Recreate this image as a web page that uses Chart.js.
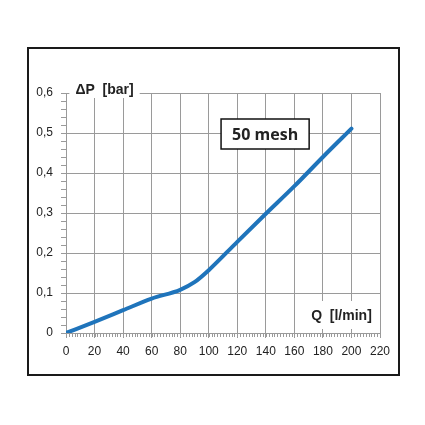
<!DOCTYPE html>
<html>
<head>
<meta charset="utf-8">
<script src="https://cdn.jsdelivr.net/npm/chart.js@4/dist/chart.umd.min.js"></script>
<style>
  body { margin: 0; background: #fff; }
  #wrap { position: relative; width: 425px; height: 425px; }
  #frame {
    position: absolute; left: 27px; top: 47px; width: 373px; height: 329px;
    box-sizing: border-box; border: 2.5px solid #1a1a1a;
  }
  canvas { position: absolute; left: 0; top: 0; }
</style>
</head>
<body>
<div id="wrap">
  <div id="frame"></div>
  <canvas id="chart" width="425" height="425"></canvas>
</div>
<script>
// flow Q [l/min] vs pressure drop ΔP [bar]
const flow = [0, 20, 40, 60, 80, 90, 100, 120, 140, 160, 180, 200];
const pressureDrop = [0, 0.028, 0.057, 0.086, 0.108, 0.127, 0.157, 0.228, 0.298, 0.367, 0.44, 0.511];

const seriesLabel = '50 mesh';
const xTitle = 'Q  [l/min]';
const yTitle = 'ΔP  [bar]';

const gridColor = '#9a9a9a';
const tickFont = {family: 'Liberation Sans', size: 12};

const fmtBar = (v) => (Math.abs(v) < 1e-9 ? '0' : v.toFixed(1).replace('.', ','));

// labels sitting on a white patch, placed in data coordinates
function drawLabel(ctx, chart, text, x, y, opts) {
  const {scales} = chart;
  const cx = scales.x.getPixelForValue(x);
  const cy = scales.y.getPixelForValue(y);
  ctx.save();
  ctx.font = opts.font;
  ctx.textAlign = 'center';
  ctx.textBaseline = 'middle';
  const w = ctx.measureText(text).width + opts.padX * 2;
  const h = opts.h;
  ctx.fillStyle = '#fff';
  ctx.fillRect(cx - w / 2, cy - h / 2, w, h);
  if (opts.border) {
    ctx.strokeStyle = '#111';
    ctx.lineWidth = 1.5;
    ctx.strokeRect(cx - w / 2, cy - h / 2, w, h);
  }
  ctx.fillStyle = '#222';
  ctx.fillText(text, cx, cy + 1);
  ctx.restore();
}

const extras = {
  id: 'extras',
  afterDraw(chart) {
    const {ctx, scales, chartArea} = chart;
    ctx.save();
    ctx.strokeStyle = gridColor;
    ctx.lineWidth = 1;
    ctx.beginPath();
    // minor ticks on the x axis
    for (let v = 2; v < 220; v += 2) {
      const px = Math.round(scales.x.getPixelForValue(v)) + 0.5;
      ctx.moveTo(px, chartArea.bottom);
      ctx.lineTo(px, chartArea.bottom + 4);
    }
    // minor ticks on the y axis
    for (let i = 1; i < 30; i++) {
      if (i % 5 === 0) continue;
      const py = Math.round(scales.y.getPixelForValue(i * 0.02)) + 0.5;
      ctx.moveTo(chartArea.left - 5, py);
      ctx.lineTo(chartArea.left, py);
    }
    ctx.stroke();
    ctx.restore();

    drawLabel(ctx, chart, yTitle, 27, 0.61, {font: 'bold 14px "Liberation Sans"', padX: 6, h: 18});
    drawLabel(ctx, chart, xTitle, 193, 0.045, {font: 'bold 14px "Liberation Sans"', padX: 4, h: 28});
    drawLabel(ctx, chart, seriesLabel, 139.5, 0.4975, {font: 'bold 16px "Open Sans"', padX: 11, h: 30, border: true});
  },
};

new Chart(document.getElementById('chart'), {
  type: 'line',
  data: {
    datasets: [
      {
        label: seriesLabel,
        data: flow.map((q, i) => ({x: q, y: pressureDrop[i]})),
        borderColor: '#1f74bb',
        borderWidth: 4,
        pointRadius: 0,
        cubicInterpolationMode: 'monotone',
        borderCapStyle: 'round',
      },
    ],
  },
  options: {
    responsive: false,
    animation: false,
    layout: {padding: {left: 30, right: 45, top: 93, bottom: 67}},
    plugins: {
      legend: {display: false},
      tooltip: {enabled: false},
    },
    scales: {
      x: {
        type: 'linear',
        min: 0,
        max: 220,
        afterFit: (scale) => {
          scale.height = 25;
        },
        grid: {color: gridColor, tickLength: 5, tickColor: gridColor},
        border: {color: gridColor},
        ticks: {stepSize: 20, color: '#222', font: tickFont, padding: 6, maxRotation: 0},
      },
      y: {
        type: 'linear',
        min: 0,
        max: 0.6,
        afterFit: (scale) => {
          scale.width = 36;
        },
        grid: {color: gridColor, tickLength: 5, tickColor: gridColor},
        border: {color: gridColor},
        ticks: {stepSize: 0.1, color: '#222', font: tickFont, padding: 8, callback: fmtBar},
      },
    },
  },
  plugins: [extras],
});
</script>
</body>
</html>
